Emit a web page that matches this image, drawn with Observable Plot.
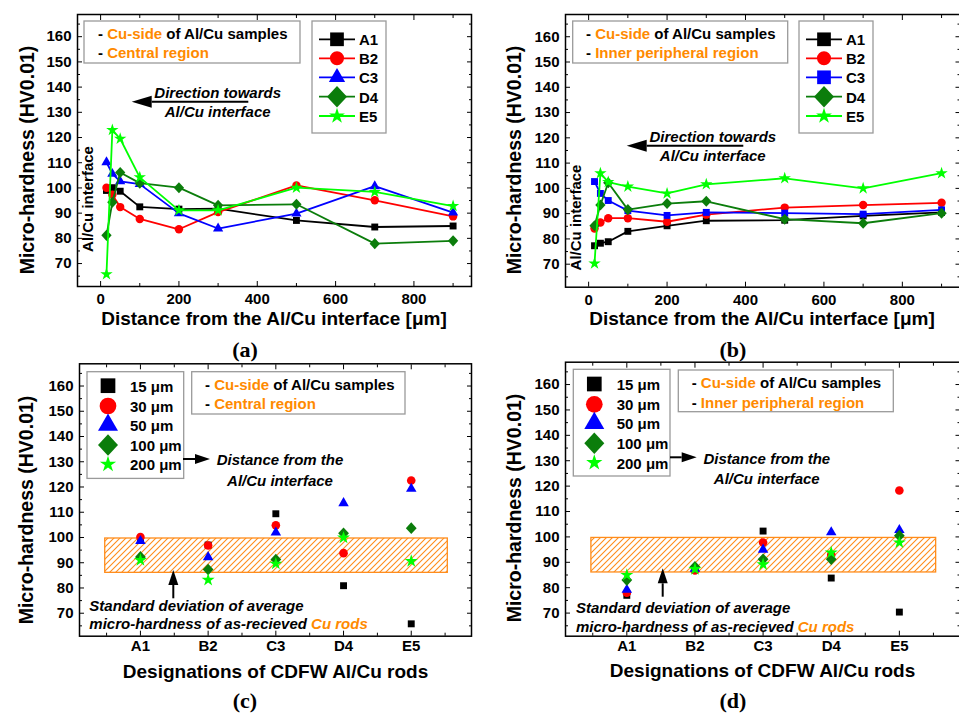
<!DOCTYPE html>
<html><head><meta charset="utf-8">
<script src="https://cdn.jsdelivr.net/npm/d3@7"></script>
<script src="https://cdn.jsdelivr.net/npm/@observablehq/plot@0.6"></script>
<style>
body{margin:0;background:#fff;}
#page{position:relative;width:959px;height:713px;overflow:hidden;background:#fff;}
#overlay{position:absolute;left:0;top:0;pointer-events:none;}
</style></head><body>
<svg width="0" height="0" style="position:absolute"><defs>
<pattern id="hatch" patternUnits="userSpaceOnUse" width="6" height="6">
<path d="M-1,1 l2,-2 M0,6 l6,-6 M5,7 l2,-2" stroke="#ff8c1a" stroke-width="1.1"/>
</pattern></defs></svg>
<div id="page"></div>
<script>
// ---------------- data ----------------
const distances = [15, 30, 50, 100, 200, 300, 500, 700, 900];
const seriesNames = ["A1", "B2", "C3", "D4", "E5"];
// (a) central region
const centralA1 = [99, 100.1, 98.7, 92.5, 91.6, 91.8, 87.1, 84.5, 84.9];
const centralB2 = [100.1, 97.3, 92.4, 87.7, 83.6, 90.4, 101, 95.1, 88.7];
const centralC3 = [110.2, 105.6, 102.6, 101.5, 89.9, 83.9, 89.8, 100.7, 90.2];
const centralD4 = [81.2, 94.3, 106.1, 101.9, 100.1, 93.1, 93.5, 77.9, 79];
const centralE5 = [65.8, 123, 119.5, 104.2, 91.1, 91.1, 100.1, 98.4, 92.8];
// (b) inner peripheral region
const innerA1 = [77.3, 78.3, 78.9, 83, 85.2, 87.2, 87.4, 89.1, 90.5];
const innerB2 = [84.1, 86.5, 88.2, 88.2, 86.8, 89.6, 92.4, 93.4, 94.3];
const innerC3 = [102.7, 98, 95.2, 91.2, 89.3, 90.5, 90.2, 89.8, 91.5];
const innerD4 = [85.2, 93.4, 102.2, 91.6, 94, 94.9, 87.8, 86.2, 90.2];
const innerE5 = [70.3, 106, 102.5, 100.7, 98, 101.6, 104, 100, 106];
// (c)/(d) by rod
const rods = ["A1", "B2", "C3", "D4", "E5"];
const depthLabels = ["15 μm", "30 μm", "50 μm", "100 μm", "200 μm"];
const c15 = [99, 97, 109.4, 80.9, 65.8];
const c30 = [100.2, 96.8, 104.8, 93.8, 122.6];
const c50 = [98.6, 92.2, 102, 113.6, 119.3];
const c100 = [92.3, 87.3, 91.3, 101.7, 103.7];
const c200 = [91, 83.2, 89.6, 99.9, 90.6];
const d15 = [77, 87.5, 102.3, 83.8, 70.4];
const d30 = [78, 86.8, 97.8, 93, 118.3];
const d50 = [79.2, 87.5, 95, 101.8, 102.7];
const d100 = [83, 88.2, 91.2, 91.2, 100.5];
const d200 = [85, 87.3, 89.2, 93.8, 97.8];
// std deviation band of as-received Cu rods
const bandLow = 86, bandHigh = 99.6;
const yTickValues = [70, 80, 90, 100, 110, 120, 130, 140, 150, 160];
const xTickValues = [0, 200, 400, 600, 800];

// ---------------- styles ----------------
const FONT = '"Liberation Sans", Arial, Helvetica, sans-serif';
const ORANGE = "#ff8a00";
const COLORS = ["#000000", "#ff0000", "#0000ff", "#0b7d0b", "#00ff00"];
const diamondSym = {draw(ctx, size) { const r = Math.sqrt(size / 2), h = r * 1.08;
  ctx.moveTo(0, -h); ctx.lineTo(r, 0); ctx.lineTo(0, h); ctx.lineTo(-r, 0); ctx.closePath(); }};
const page = document.getElementById("page");

const yMinor = d3.range(65, 166, 10);
function yAxes() {
  return [
    Plot.axisY({ticks: yTickValues, tickSize: 0, tickPadding: 6, label: null, fontSize: 15, fontWeight: "bold", fontFamily: FONT, fill: "#000"}),
    Plot.axisY({ticks: yTickValues, tickSize: -5, fill: "none", label: null, stroke: "#000"}),
    Plot.axisY({ticks: yMinor, tickSize: -3, fill: "none", label: null, stroke: "#000"}),
    Plot.axisY({anchor: "right", ticks: yTickValues, tickSize: -5, fill: "none", label: null, stroke: "#000"}),
    Plot.axisY({anchor: "right", ticks: yMinor, tickSize: -3, fill: "none", label: null, stroke: "#000"})
  ];
}
function xAxes(major, minor, fmt, pad) {
  return [
    Plot.axisX({ticks: major, tickSize: 0, tickPadding: pad, tickFormat: fmt, label: null, fontSize: 15, fontWeight: "bold", fontFamily: FONT, fill: "#000"}),
    Plot.axisX({ticks: major, tickSize: -5, fill: "none", label: null, stroke: "#000"}),
    Plot.axisX({ticks: minor, tickSize: -3, fill: "none", label: null, stroke: "#000"}),
    Plot.axisX({anchor: "top", ticks: major, tickSize: -5, fill: "none", label: null, stroke: "#000"}),
    Plot.axisX({anchor: "top", ticks: minor, tickSize: -3, fill: "none", label: null, stroke: "#000"})
  ];
}
function place(svg, left, top) {
  svg.style.position = "absolute"; svg.style.left = left + "px"; svg.style.top = top + "px";
  page.appendChild(svg);
}

function linePanel(left, top, width, height, m, seriesArr, symbols, radii) {
  const marks = [];
  seriesArr.forEach((vals, k) => {
    const data = distances.map((d, i) => ({d, v: vals[i], s: seriesNames[k]}));
    marks.push(Plot.line(data, {x: "d", y: "v", stroke: COLORS[k], strokeWidth: 1.8}));
    marks.push(Plot.dot(data, {x: "d", y: "v", symbol: symbols[k], fill: COLORS[k], r: radii[k]}));
  });
  const svg = Plot.plot({
    width, height, marginTop: m[0], marginRight: m[1], marginBottom: m[2], marginLeft: m[3],
    x: {domain: [-59, 947]}, y: {domain: [60.9, 168.8]},
    style: {background: "transparent", maxWidth: "none", fontFamily: FONT, overflow: "visible"},
    marks: [...yAxes(), ...xAxes(xTickValues, [100, 300, 500, 700, 900], d => d, 7), ...marks,
      Plot.frame({stroke: "#000", strokeWidth: 1.5})]
  });
  place(svg, left, top);
}

const depthSymbols = ["square", "circle", "triangle", diamondSym, "star"];
function rodPanel(left, top, width, height, m, seriesArr, radii) {
  const marks = [Plot.rect([{x1: 0.48, x2: 5.54, y1: bandLow, y2: bandHigh}],
    {x1: "x1", x2: "x2", y1: "y1", y2: "y2", fill: "url(#hatch)", stroke: "#ff8c1a", strokeWidth: 1.3})];
  seriesArr.forEach((vals, k) => {
    const data = rods.map((r, i) => ({i: i + 1, v: vals[i]}));
    marks.push(Plot.dot(data, {x: "i", y: "v", symbol: depthSymbols[k], fill: COLORS[k], r: radii[k]}));
  });
  const svg = Plot.plot({
    width, height, marginTop: m[0], marginRight: m[1], marginBottom: m[2], marginLeft: m[3],
    x: {domain: [0.1, 5.89]}, y: {domain: [60.9, 168.8]},
    style: {background: "transparent", maxWidth: "none", fontFamily: FONT, overflow: "visible"},
    marks: [...yAxes(), ...xAxes([1, 2, 3, 4, 5], [0.5, 1.5, 2.5, 3.5, 4.5, 5.5], i => rods[i - 1], 4.5), ...marks,
      Plot.frame({stroke: "#000", strokeWidth: 1.5})]
  });
  place(svg, left, top);
}

linePanel(0, 0, 480, 340, [14, 9, 54, 77],
  [centralA1, centralB2, centralC3, centralD4, centralE5],
  ["square", "circle", "triangle", diamondSym, "star"], [3.9, 4.2, 3.8, 4.1, 3.9]);
linePanel(480, 0, 480, 340, [14, 0.5, 53.3, 85],
  [innerA1, innerB2, innerC3, innerD4, innerE5],
  ["square", "circle", "square", diamondSym, "star"], [3.9, 4.2, 3.9, 4.1, 3.9]);
rodPanel(0, 340, 480, 373, [23.3, 9, 77.3, 79], [c15, c30, c50, c100, c200], [3.9, 4.3, 3.9, 4.3, 4.1]);
rodPanel(480, 340, 480, 373, [21.7, 0.5, 77.3, 85], [d15, d30, d50, d100, d200], [3.9, 4.3, 3.9, 4.3, 4.1]);

// ---------------- overlay: titles, legends, annotations ----------------
const ov = d3.select(page).append("svg").attr("id", "overlay").attr("width", 959).attr("height", 713);
function text(x, y, parts, o = {}) {
  const t = ov.append("text").attr("x", x).attr("y", y).attr("dominant-baseline", "central")
    .attr("font-size", o.size || 15).attr("font-weight", o.weight || "bold")
    .attr("font-style", o.italic ? "italic" : "normal").attr("text-anchor", o.anchor || "start")
    .attr("font-family", o.family || FONT);
  if (o.rotate) t.attr("transform", `rotate(${o.rotate},${x},${y})`);
  (Array.isArray(parts) ? parts : [[parts, "#000"]]).forEach(([s, c]) => t.append("tspan").attr("fill", c || "#000").text(s));
  return t;
}
function arrow(x1, y1, x2, y2, hl = 18, hw = 6) {
  const a = Math.atan2(y2 - y1, x2 - x1), ca = Math.cos(a), sa = Math.sin(a);
  const bx = x2 - hl * ca, by = y2 - hl * sa;
  ov.append("line").attr("x1", x1).attr("y1", y1).attr("x2", bx).attr("y2", by).attr("stroke", "#000").attr("stroke-width", 2);
  ov.append("path").attr("d", `M${x2},${y2}L${bx - hw * sa},${by + hw * ca}L${bx + hw * sa},${by - hw * ca}Z`).attr("fill", "#000");
}
function box(x, y, w, h) {
  ov.append("rect").attr("x", x).attr("y", y).attr("width", w).attr("height", h)
    .attr("fill", "#fff").attr("stroke", "#9a9a9a").attr("stroke-width", 1.3);
}
function sym(type, size, x, y, color) {
  const t = typeof type === "string" ? {square: d3.symbolSquare, circle: d3.symbolCircle, triangle: d3.symbolTriangle, star: d3.symbolStar}[type] : type;
  ov.append("path").attr("d", d3.symbol(t, size)()).attr("transform", `translate(${x},${y})`).attr("fill", color);
}

// axis titles
const yTitle = "Micro-hardness (HV0.01)";
text(27, 160, yTitle, {size: 19.5, anchor: "middle", rotate: -90});
text(514, 160, yTitle, {size: 19.5, anchor: "middle", rotate: -90});
text(26, 510, yTitle, {size: 19.5, anchor: "middle", rotate: -90});
text(514, 508, yTitle, {size: 19.5, anchor: "middle", rotate: -90});
text(274, 318, "Distance from the Al/Cu interface [μm]", {size: 19, anchor: "middle"});
text(762, 318, "Distance from the Al/Cu interface [μm]", {size: 19, anchor: "middle"});
text(275.5, 670.5, "Designations of CDFW Al/Cu rods", {size: 19, anchor: "middle"});
text(762.5, 670, "Designations of CDFW Al/Cu rods", {size: 19, anchor: "middle"});
// captions
const SERIF = '"Liberation Serif", "DejaVu Serif", serif';
text(245, 349, "(a)", {size: 22, anchor: "middle", family: SERIF});
text(733, 349, "(b)", {size: 22, anchor: "middle", family: SERIF});
text(245, 700, "(c)", {size: 22, anchor: "middle", family: SERIF});
text(733, 700, "(d)", {size: 22, anchor: "middle", family: SERIF});

// info boxes
function info(x, y, w, h, tx, l1, l2, region) {
  box(x, y, w, h);
  text(tx, l1, [["- ", "#000"], ["Cu-side", ORANGE], [" of Al/Cu samples", "#000"]]);
  text(tx, l2, [["- ", "#000"], [region, ORANGE]]);
}
info(84, 21, 216, 42, 98, 33, 52, "Central region");
info(572.7, 21, 215, 42, 586, 33, 52, "Inner peripheral region");
info(191.7, 371.7, 213.3, 42.3, 205, 384, 403.3, "Central region");
info(678.3, 370, 215, 41.7, 691.7, 382.3, 401.7, "Inner peripheral region");

// series legends (a), (b)
const legY = [39.3, 58.3, 77.3, 96.7, 116];
function seriesLegend(bx, symbols, sizes) {
  box(bx, 21, 74, 112);
  seriesNames.forEach((n, k) => {
    ov.append("line").attr("x1", bx + 7).attr("x2", bx + 43).attr("y1", legY[k]).attr("y2", legY[k])
      .attr("stroke", COLORS[k]).attr("stroke-width", 1.8);
    sym(symbols[k], sizes[k], bx + 25, legY[k], COLORS[k]);
    text(bx + 47, legY[k], n);
  });
}
seriesLegend(312, ["square", "circle", "triangle", diamondSym, "star"], [188, 154, 115, 200, 78]);
seriesLegend(799, ["square", "circle", "square", diamondSym, "star"], [188, 154, 188, 200, 78]);

// depth legends (c), (d)
function depthLegend(bx, by, sx, ys, lx) {
  box(bx, by, 96.7, 106.7);
  depthLabels.forEach((n, k) => {
    sym(depthSymbols[k], [216, 219, 173, 200, 82][k], sx, ys[k], COLORS[k]);
    text(lx, ys[k], n);
  });
}
depthLegend(87, 371.7, 108, [385.7, 406, 425, 445, 464.3], 130);
depthLegend(573.3, 369.3, 594.3, [384, 404.3, 423.3, 443.3, 462.7], 616.7);

// direction annotations (a), (b)
arrow(248.3, 101.7, 131.7, 101.7, 20, 6);
text(217.7, 91.7, "Direction towards", {italic: true, anchor: "middle"});
text(217.7, 111, "Al/Cu interface", {italic: true, anchor: "middle"});
arrow(743.3, 145.7, 626.7, 145.7, 20, 6);
text(712.8, 135.7, "Direction towards", {italic: true, anchor: "middle"});
text(712.8, 155, "Al/Cu interface", {italic: true, anchor: "middle"});
text(87, 199, "Al/Cu interface", {rotate: -90, anchor: "middle"});
text(575, 217.5, "Al/Cu interface", {rotate: -90, anchor: "middle"});

// distance annotations (c), (d)
arrow(183, 459, 210, 459, 15, 5);
text(280, 459, "Distance from the", {italic: true, anchor: "middle"});
text(280, 480, "Al/Cu interface", {italic: true, anchor: "middle"});
arrow(670, 457.3, 696.7, 457.3, 15, 5);
text(766.8, 458.3, "Distance from the", {italic: true, anchor: "middle"});
text(766.8, 478.3, "Al/Cu interface", {italic: true, anchor: "middle"});

// standard deviation annotations
arrow(173.3, 598.3, 173.3, 570, 15, 5);
text(89.3, 605, "Standard deviation of average", {italic: true});
text(89.3, 623.3, [["micro-hardness of as-recieved ", "#000"], ["Cu rods", ORANGE]], {italic: true});
arrow(662.7, 596.7, 662.7, 568.3, 15, 5);
text(576, 606.7, "Standard deviation of average", {italic: true});
text(576, 625.7, [["micro-hardness of as-recieved ", "#000"], ["Cu rods", ORANGE]], {italic: true});
</script>
</body></html>
